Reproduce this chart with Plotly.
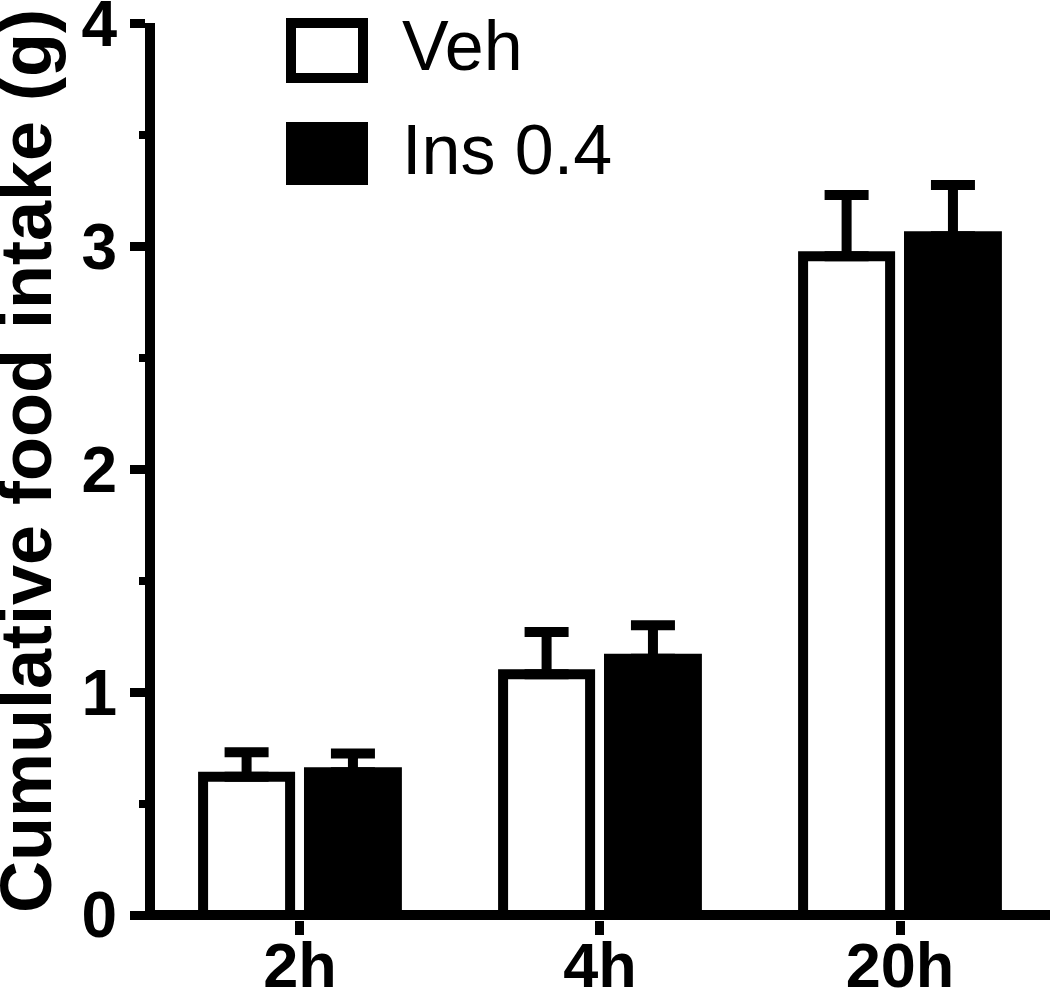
import plotly.graph_objects as go

# ---- data ----
categories = ["2h", "4h", "20h"]
series_names = ["Veh", "Ins 0.4"]
veh_mean = [0.62, 1.08, 2.955]
veh_sem = [0.11, 0.19, 0.275]
ins_mean = [0.64, 1.15, 3.045]
ins_sem = [0.085, 0.15, 0.23]
y_ticks = [0, 1, 2, 3, 4]
y_title = "Cumulative food intake (g)"

FONT = "Liberation Sans, Arial, sans-serif"

fig = go.Figure()
fig.add_trace(go.Bar(
    x=categories, y=veh_mean, name=series_names[0],
    offset=-0.323, width=0.29,
    marker=dict(color="white", line=dict(color="black", width=10)),
    error_y=dict(type="data", array=veh_sem, arrayminus=[0] * len(veh_sem),
                 symmetric=False, color="black", thickness=10, width=22),
    showlegend=False,
))
fig.add_trace(go.Bar(
    x=categories, y=ins_mean, name=series_names[1],
    offset=0.03, width=0.293,
    marker=dict(color="black", line=dict(color="black", width=10)),
    error_y=dict(type="data", array=ins_sem, arrayminus=[0] * len(ins_sem),
                 symmetric=False, color="black", thickness=10, width=22),
    showlegend=False,
))

# manual legend (large boxes like the original)
L, T, W, H = 155, 23, 895, 897
def px(x):
    return (x - L) / W
def py(y):
    return (T + H - y) / H

fig.add_shape(type="rect", xref="paper", yref="paper",
              x0=px(291), x1=px(363), y0=py(23), y1=py(78),
              line=dict(color="black", width=10), fillcolor="white")
fig.add_shape(type="rect", xref="paper", yref="paper",
              x0=px(291), x1=px(363), y0=py(127), y1=py(180),
              line=dict(color="black", width=10), fillcolor="black")
fig.add_annotation(text=series_names[0], xref="paper", yref="paper",
                   x=px(400), y=py(46), xanchor="left", yanchor="middle",
                   showarrow=False, font=dict(family=FONT, size=70, color="black"))
fig.add_annotation(text=series_names[1], xref="paper", yref="paper",
                   x=px(400), y=py(150), xanchor="left", yanchor="middle",
                   showarrow=False, font=dict(family=FONT, size=70, color="black"))

# y-axis title as rotated annotation
fig.add_annotation(text=y_title, xref="paper", yref="paper",
                   x=px(-16), y=py(461), xanchor="left", yanchor="middle",
                   textangle=-90, showarrow=False,
                   font=dict(family=FONT, size=72, weight="bold", color="black"))

fig.update_layout(
    width=1050, height=995,
    margin=dict(l=L, r=1050 - L - W, t=T, b=995 - T - H, autoexpand=False),
    plot_bgcolor="white", paper_bgcolor="white",
    barmode="overlay",
    font=dict(family=FONT, color="black"),
)
fig.update_xaxes(
    type="category", range=[-0.4833, 2.5],
    showline=False, showgrid=False, zeroline=False,
    ticks="outside", ticklen=14, tickwidth=9, tickcolor="black",
    ticklabelstandoff=-24,
    tickfont=dict(family=FONT, size=63, weight="bold", color="black"),
)
fig.update_yaxes(
    range=[-0.0224, 4.002], tickvals=y_ticks,
    showline=True, linewidth=10, linecolor="black",
    showgrid=False, zeroline=True, zerolinewidth=10, zerolinecolor="black",
    ticks="outside", ticklen=15, tickwidth=9, tickcolor="black",
    ticklabeloverflow="allow",
    minor=dict(dtick=0.5, tick0=0, ticks="outside", ticklen=6, tickwidth=8,
               tickcolor="black", showgrid=False),
    tickfont=dict(family=FONT, size=64, weight="bold", color="black"),
)

fig.write_html("out.html", config={"displayModeBar": False},
               post_script="document.body.style.margin='0px';")
